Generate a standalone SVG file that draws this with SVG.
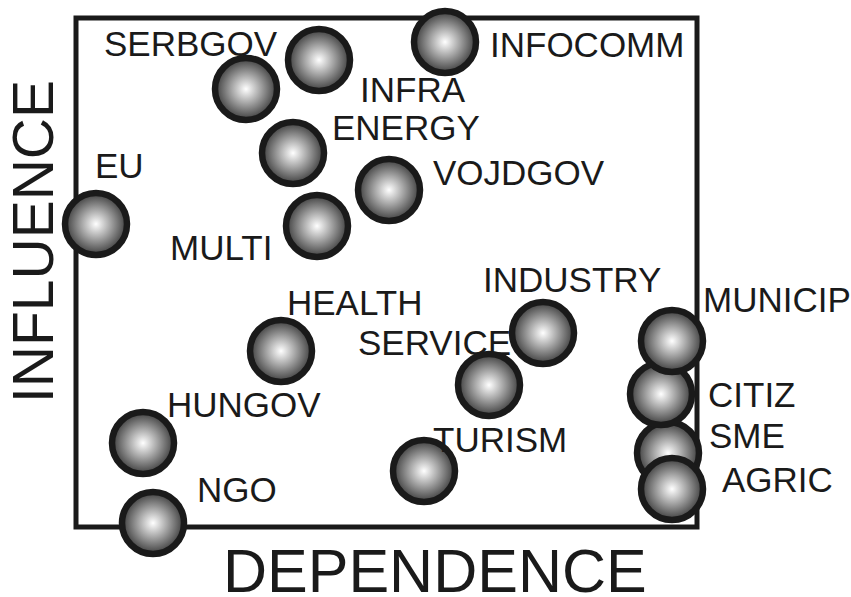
<svg xmlns="http://www.w3.org/2000/svg" width="851" height="597" viewBox="0 0 851 597">
<defs>
<radialGradient id="sph" cx="50%" cy="50%" r="50%">
<stop offset="0" stop-color="#ffffff"/>
<stop offset="0.45" stop-color="#a8a8a8"/>
<stop offset="1" stop-color="#3c3c3c"/>
</radialGradient>
<style>
.ball{fill:url(#sph);stroke:#1a1a1a;stroke-width:6.5}
.lbl{font-family:"Liberation Sans",Arial,sans-serif;font-size:35px;fill:#1a1a1a}
.ax{font-family:"Liberation Sans",Arial,sans-serif;fill:#1a1a1a}
</style>
</defs>
<rect width="851" height="597" fill="#fff"/>
<rect id="frame" x="76" y="18" width="621" height="509" fill="none" stroke="#1a1a1a" stroke-width="5"/>
<g id="connectors"/>
<text class="ax" x="223" y="592" font-size="61">DEPENDENCE</text>
<text class="ax" transform="translate(53,403) rotate(-90)" font-size="57">INFLUENCE</text>
<g id="EU"><circle class="ball" cx="96" cy="224" r="31"/><text class="lbl" x="95" y="178">EU</text></g>
<g id="SERBGOV"><circle class="ball" cx="246" cy="89" r="31"/><text class="lbl" x="104" y="56">SERBGOV</text></g>
<g id="INFRA"><circle class="ball" cx="319" cy="60" r="31"/><text class="lbl" x="360" y="102">INFRA</text></g>
<g id="INFOCOMM"><circle class="ball" cx="445" cy="42" r="31"/><text class="lbl" x="490" y="57">INFOCOMM</text></g>
<g id="ENERGY"><circle class="ball" cx="293" cy="153" r="31"/><text class="lbl" x="332" y="140">ENERGY</text></g>
<g id="VOJDGOV"><circle class="ball" cx="389" cy="190" r="31"/><text class="lbl" x="433" y="185">VOJDGOV</text></g>
<g id="MULTI"><circle class="ball" cx="317" cy="226" r="31"/><text class="lbl" x="170" y="260">MULTI</text></g>
<g id="HEALTH"><circle class="ball" cx="281" cy="351" r="31"/><text class="lbl" x="287" y="315">HEALTH</text></g>
<g id="HUNGOV"><circle class="ball" cx="143" cy="443" r="31"/><text class="lbl" x="167" y="417">HUNGOV</text></g>
<g id="NGO"><circle class="ball" cx="153" cy="523" r="31"/><text class="lbl" x="197" y="502">NGO</text></g>
<g id="TURISM"><circle class="ball" cx="424" cy="471" r="31"/><text class="lbl" x="433" y="452">TURISM</text></g>
<g id="INDUSTRY"><circle class="ball" cx="543" cy="333" r="31"/><text class="lbl" x="483" y="292">INDUSTRY</text></g>
<g id="SERVICE"><circle class="ball" cx="489" cy="385" r="31"/><text class="lbl" x="358" y="355">SERVICE</text></g>
<g id="SME"><circle class="ball" cx="668" cy="453" r="31"/><text class="lbl" x="709" y="448">SME</text></g>
<g id="CITIZ"><circle class="ball" cx="661" cy="394" r="31"/><text class="lbl" x="708" y="407">CITIZ</text></g>
<g id="MUNICIP"><circle class="ball" cx="672" cy="341" r="31"/><text class="lbl" x="703" y="312">MUNICIP</text></g>
<g id="AGRIC"><circle class="ball" cx="672" cy="489" r="31"/><text class="lbl" x="722" y="492">AGRIC</text></g>
</svg>
